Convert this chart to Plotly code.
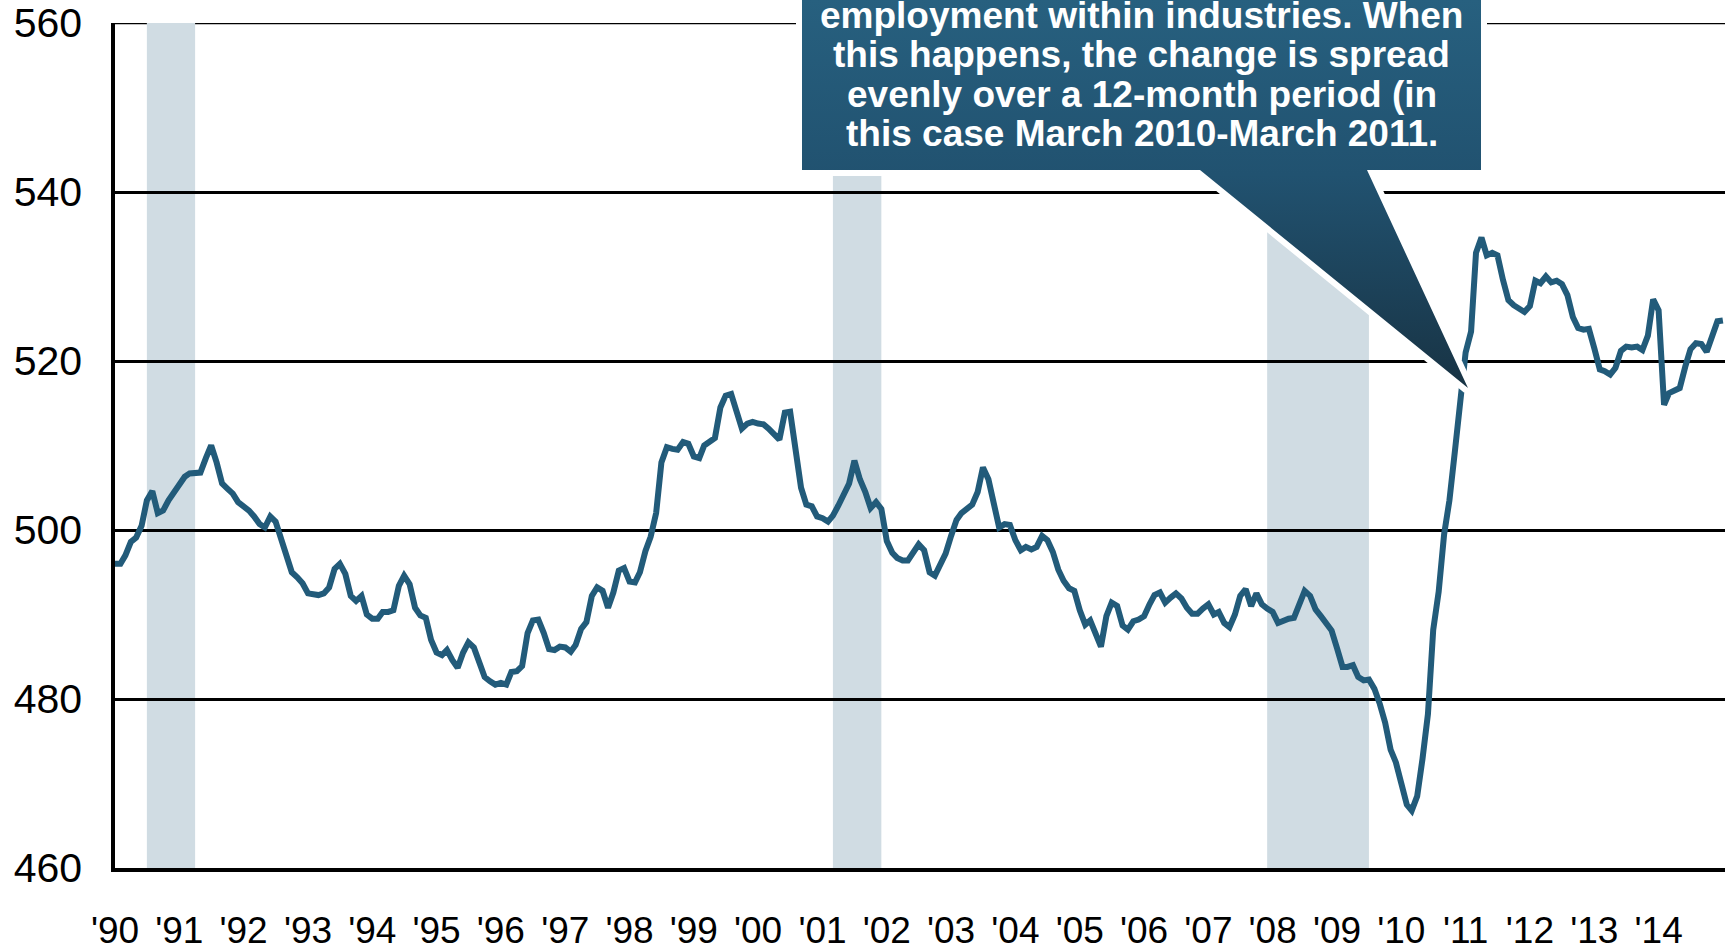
import pandas as pd
import plotly.graph_objects as go

# ---------------- data ----------------
YEAR_LABELS = ["'90", "'91", "'92", "'93", "'94", "'95", "'96", "'97", "'98", "'99",
               "'00", "'01", "'02", "'03", "'04", "'05", "'06", "'07", "'08", "'09",
               "'10", "'11", "'12", "'13", "'14"]

v1990 = [496.0, 496.0, 497.0, 498.6, 499.1, 500.5, 503.5, 504.6, 502.0, 502.3, 503.5, 504.5]
v1991 = [505.3, 506.3, 506.7, 506.7, 506.8, 508.5, 510.0, 508.0, 505.5, 504.9, 504.3, 503.3]
v1992 = [502.8, 502.3, 501.6, 500.7, 500.3, 501.6, 501.0, 499.0, 496.6, 495.0, 494.4, 493.7]
v1993 = [492.5, 492.3, 492.3, 492.5, 493.2, 495.4, 496.0, 494.8, 492.2, 491.6, 492.2, 490.0]
v1994 = [489.5, 489.5, 490.3, 490.3, 490.5, 493.4, 494.6, 493.6, 490.8, 489.9, 489.6, 487.0]
v1995 = [485.5, 485.2, 485.8, 484.6, 483.7, 485.5, 486.7, 486.1, 484.2, 482.6, 482.1, 481.7]
v1996 = [481.9, 481.7, 483.2, 483.3, 483.9, 487.8, 489.3, 489.4, 487.8, 485.9, 485.8, 486.2]
v1997 = [486.1, 485.6, 486.4, 488.3, 489.1, 492.2, 493.2, 492.8, 490.8, 492.6, 495.2, 495.5]
v1998 = [493.9, 493.8, 495.0, 497.5, 499.2, 502.0, 508.0, 509.8, 509.6, 509.5, 510.4, 510.2]
v1999 = [508.7, 508.5, 510.0, 510.4, 510.9, 514.5, 515.9, 516.1, 514.0, 512.0, 512.6, 512.8]
v2000 = [512.6, 512.5, 512.0, 511.4, 510.7, 513.9, 514.0, 509.5, 505.0, 503.0, 502.8, 501.6]
v2001 = [501.4, 501.0, 501.7, 502.9, 504.2, 505.5, 508.2, 506.0, 504.5, 502.6, 503.3, 502.5]
v2002 = [498.7, 497.3, 496.7, 496.4, 496.4, 497.4, 498.3, 497.6, 495.0, 494.6, 495.8, 497.2]
v2003 = [499.3, 501.2, 502.0, 502.5, 503.0, 504.5, 507.4, 506.0, 503.2, 500.3, 500.7, 500.6]
v2004 = [498.8, 497.6, 498.0, 497.7, 498.0, 499.3, 498.8, 497.4, 495.3, 494.0, 493.1, 492.8]
v2005 = [490.5, 488.8, 489.3, 487.5, 486.2, 489.8, 491.4, 491.0, 488.7, 488.2, 489.2, 489.4]
v2006 = [489.8, 491.2, 492.3, 492.6, 491.4, 492.0, 492.5, 491.9, 490.8, 490.1, 490.1, 490.7]
v2007 = [491.2, 490.0, 490.3, 489.0, 488.5, 490.0, 492.2, 493.0, 491.0, 492.5, 491.2, 490.7]
v2008 = [490.3, 489.0, 489.3, 489.5, 489.6, 491.2, 492.8, 492.2, 490.6, 489.8, 488.8, 488.1]
v2009 = [486.0, 483.8, 483.8, 484.0, 482.6, 482.2, 482.3, 481.2, 479.4, 477.2, 474.0, 472.5]
v2010 = [470.0, 467.5, 466.8, 468.5, 472.9, 478.2, 488.2, 492.7, 499.5, 503.5, 509.3, 514.5]
v2011 = [521.0, 523.5, 532.8, 534.6, 532.5, 532.8, 532.5, 529.6, 527.2, 526.6, 526.1, 525.8]
v2012 = [526.5, 529.5, 529.2, 530.0, 529.3, 529.5, 529.1, 527.8, 525.2, 523.9, 523.7, 523.8]
v2013 = [521.5, 519.0, 518.8, 518.4, 519.2, 521.2, 521.7, 521.6, 521.7, 521.3, 523.0, 527.3]
v2014 = [526.0, 514.8, 516.2, 516.5, 516.8, 519.3, 521.4, 522.1, 522.0, 521.1, 523.0, 524.7]
v2015 = [524.8]

VALUES = (v1990 + v1991 + v1992 + v1993 + v1994 + v1995 + v1996 + v1997 + v1998 + v1999 +
          v2000 + v2001 + v2002 + v2003 + v2004 + v2005 + v2006 + v2007 + v2008 + v2009 +
          v2010 + v2011 + v2012 + v2013 + v2014 + v2015)
MONTHS = pd.date_range("1990-01-01", periods=len(VALUES), freq="MS")

RECESSION_START = ["1990-07-01", "2001-03-01", "2007-12-01"]
RECESSION_END = ["1991-04-01", "2001-12-01", "2009-07-01"]

Y_TICKS = [460, 480, 500, 520, 540, 560]
TICK_DATES = [f"{1990 + k}-01-01" for k in range(len(YEAR_LABELS))]

CALLOUT_LINES = ["employment within industries. When",
                 "this happens, the change is spread",
                 "evenly over a 12-month period (in",
                 "this case March 2010-March 2011."]

# ---------------- styling / layout constants ----------------
W, H = 1725, 948
FONT = "Liberation Sans, Arial, sans-serif"
LINE_COLOR = "#225b7a"
SHADE_COLOR = "#d0dce3"

# callout geometry in pixel space of the overlay axes
BOX_L, BOX_R, BOX_T, BOX_B = 802, 1481, -120, 170
PTR_L, PTR_R, TIP_X, TIP_Y = 1200, 1367, 1468, 388
CALLOUT_X = [BOX_L, BOX_R, BOX_R, PTR_R, TIP_X, PTR_L, BOX_L, BOX_L]
CALLOUT_Y = [BOX_T, BOX_T, BOX_B, BOX_B, TIP_Y, BOX_B, BOX_B, BOX_T]
TEXT_CENTER_X = (BOX_L + BOX_R) / 2
TEXT_Y = [15, 54.5, 94, 133.5]

fig = go.Figure()

fig.add_trace(go.Scatter(x=MONTHS, y=VALUES, mode="lines",
                         line=dict(color=LINE_COLOR, width=6),
                         xaxis="x", yaxis="y", hoverinfo="skip", showlegend=False))

# white halo + gradient callout
fig.add_trace(go.Scatter(x=CALLOUT_X, y=CALLOUT_Y, mode="lines", fill="toself",
                         fillcolor="white", line=dict(color="white", width=12),
                         xaxis="x2", yaxis="y2", hoverinfo="skip", showlegend=False))
fig.add_trace(go.Scatter(x=CALLOUT_X, y=CALLOUT_Y, mode="lines", fill="toself",
                         line=dict(width=0, color="rgba(0,0,0,0)"),
                         fillgradient=dict(type="vertical", start=0, stop=TIP_Y,
                                           colorscale=[[0, "#27607f"], [0.45, "#215270"],
                                                       [1, "#183344"]]),
                         xaxis="x2", yaxis="y2", hoverinfo="skip", showlegend=False))

# top frame gridline (under the recession shading, as in the original)
shapes = [dict(type="line", xref="x domain", yref="y", x0=0, x1=1,
               y0=Y_TICKS[-1], y1=Y_TICKS[-1], line=dict(color="black", width=2.5),
               layer="below")]
for s, e in zip(RECESSION_START, RECESSION_END):
    shapes.append(dict(type="rect", xref="x", yref="y", x0=s, x1=e,
                       y0=Y_TICKS[0], y1=Y_TICKS[-1], fillcolor=SHADE_COLOR,
                       line=dict(width=0), layer="below"))

annotations = []
for txt, ty in zip(CALLOUT_LINES, TEXT_Y):
    annotations.append(dict(text=txt, xref="x2", yref="y2", x=TEXT_CENTER_X, y=ty,
                            xanchor="center", yanchor="middle", showarrow=False,
                            font=dict(family=FONT, size=37, color="white", weight="bold")))

left = 115 / W
bottom = (H - 868) / H
top = (H - 23) / H

fig.update_layout(
    width=W, height=H, template="none",
    margin=dict(l=0, r=0, t=0, b=0, pad=0),
    paper_bgcolor="white", plot_bgcolor="rgba(0,0,0,0)",
    showlegend=False, shapes=shapes, annotations=annotations,
    xaxis=dict(domain=[left, 1], range=["1990-01-01", "2015-01-13"],
               tickmode="array", tickvals=TICK_DATES, ticktext=YEAR_LABELS,
               tickfont=dict(family=FONT, size=37, color="black"),
               ticks="", ticklabelstandoff=27, showgrid=False, zeroline=False,
               showline=True, linecolor="black", linewidth=4, automargin=False,
               anchor="y"),
    yaxis=dict(domain=[bottom, top], range=[460, 560], tickmode="array",
               tickvals=Y_TICKS, ticktext=[str(v) for v in Y_TICKS],
               tickfont=dict(family=FONT, size=41, color="black"),
               ticks="", ticklabelstandoff=21, showgrid=True, gridcolor="black",
               gridwidth=2.5, zeroline=False, showline=True, linecolor="black",
               linewidth=3.5, automargin=False, anchor="x"),
    xaxis2=dict(domain=[0, 1], range=[0, W], visible=False, anchor="y2",
                fixedrange=True),
    yaxis2=dict(domain=[0, 1], range=[H, 0], visible=False, anchor="x2",
                fixedrange=True),
)

fig.write_html("out.html", config={"displayModeBar": False},
               post_script="document.body.style.margin='0';")
